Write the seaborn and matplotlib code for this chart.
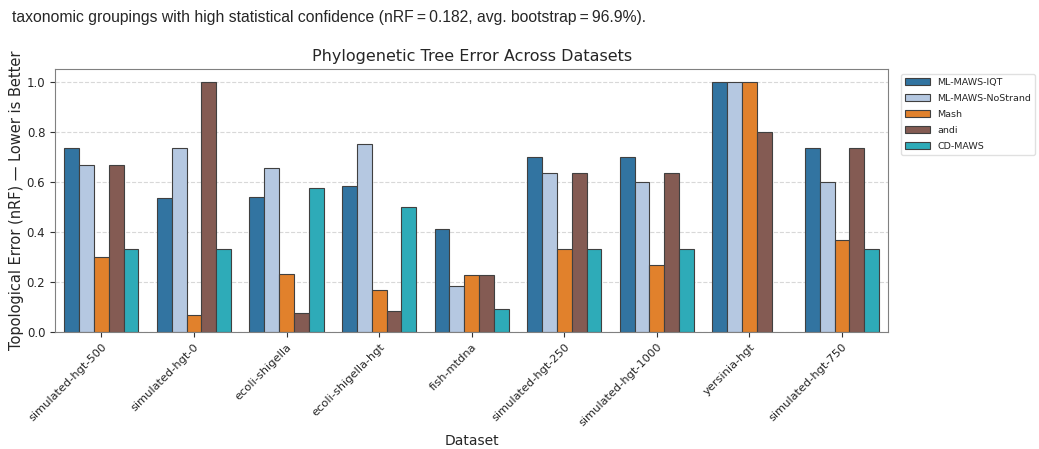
import numpy as np
import pandas as pd
import matplotlib
matplotlib.use("Agg")
import matplotlib.pyplot as plt
import seaborn as sns

datasets = [
    "simulated-hgt-500", "simulated-hgt-0", "ecoli-shigella", "ecoli-shigella-hgt",
    "fish-mtdna", "simulated-hgt-250", "simulated-hgt-1000", "yersinia-hgt",
    "simulated-hgt-750",
]
methods = ["ML-MAWS-IQT", "ML-MAWS-NoStrand", "Mash", "andi", "CD-MAWS"]

ml_maws_iqt = [0.733, 0.533, 0.539, 0.583, 0.409, 0.700, 0.700, 1.000, 0.733]
ml_maws_nostrand = [0.667, 0.733, 0.655, 0.750, 0.182, 0.633, 0.600, 1.000, 0.600]
mash = [0.300, 0.067, 0.231, 0.167, 0.227, 0.333, 0.267, 1.000, 0.367]
andi = [0.667, 1.000, 0.077, 0.083, 0.227, 0.633, 0.633, 0.800, 0.733]
cd_maws = [0.333, 0.333, 0.576, 0.500, 0.091, 0.333, 0.333, np.nan, 0.333]

palette = ["#1f77b4", "#aec7e8", "#ff7f0e", "#8c564b", "#17becf"]

rows = []
for m, vals in zip(methods, [ml_maws_iqt, ml_maws_nostrand, mash, andi, cd_maws]):
    for d, v in zip(datasets, vals):
        rows.append({"Dataset": d, "Method": m, "nRF": v})
df = pd.DataFrame(rows)

sns.set_style("white")
fig = plt.figure(figsize=(10.39, 4.49), dpi=100)
ax = fig.add_axes([0.053, 0.261, 0.802, 0.585])

sns.barplot(data=df, x="Dataset", y="nRF", hue="Method", order=datasets,
            hue_order=methods, palette=palette, saturation=0.75,
            edgecolor="0.25", linewidth=0.8, ax=ax)

ax.set_ylim(0, 1.05)
ax.set_yticks([0.0, 0.2, 0.4, 0.6, 0.8, 1.0])
ax.yaxis.grid(True, linestyle="--", alpha=0.6, color="0.75", linewidth=0.8)
ax.set_axisbelow(True)
for s in ax.spines.values():
    s.set_color("0.5")
ax.tick_params(axis="both", which="both", bottom=True, left=True, length=3.5,
               color="0.2", labelsize=8.5)
plt.setp(ax.get_xticklabels(), rotation=45, ha="right", rotation_mode="anchor",
         fontsize=8.2)
ax.set_xlabel("Dataset", fontsize=10)
ax.set_ylabel("Topological Error (nRF) \u2014 Lower is Better", fontsize=10.5,
              labelpad=2)
ax.set_title("Phylogenetic Tree Error Across Datasets", fontsize=11.5)

ax.legend(loc="upper left", bbox_to_anchor=(1.01, 1.0), fontsize=6.8,
          frameon=True, edgecolor="0.85", handlelength=2.6, labelspacing=0.75)

fig.text(0.012, 0.978, "taxonomic groupings with high statistical confidence "
         "(nRF\u2009=\u20090.182, avg. bootstrap\u2009=\u200996.9%).",
         family="Liberation Sans", fontsize=11.3, va="top", ha="left")

fig.savefig("out.png", dpi=100)
